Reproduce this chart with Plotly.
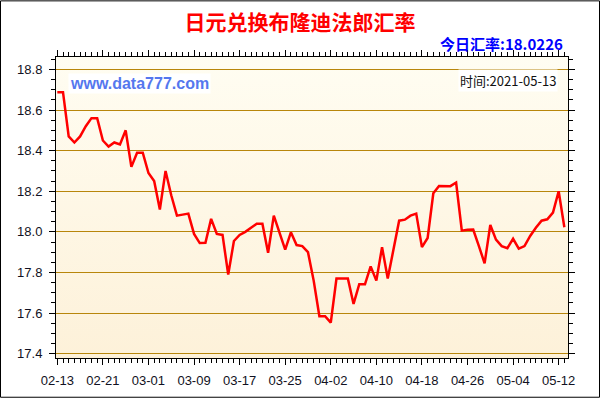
import plotly.graph_objects as go
import pandas as pd

# ---- data ----
dates = pd.date_range("2021-02-13", "2021-05-13", freq="D").strftime("%Y-%m-%d").tolist()
rates = [
    18.688, 18.688, 18.47, 18.44, 18.47, 18.52, 18.56, 18.56, 18.45, 18.42,
    18.44, 18.43, 18.50, 18.32, 18.39, 18.39, 18.29, 18.25, 18.11, 18.30,
    18.18, 18.08, 18.085, 18.09, 17.99, 17.945, 17.946, 18.064, 17.99, 17.985,
    17.79, 17.955, 17.985, 18.00, 18.02, 18.04, 18.04, 17.897, 18.08, 18.00,
    17.913, 17.998, 17.935, 17.93, 17.90, 17.76, 17.585, 17.585, 17.553, 17.77,
    17.77, 17.77, 17.645, 17.742, 17.742, 17.83, 17.76, 17.925, 17.77, 17.91,
    18.055, 18.06, 18.08, 18.09, 17.925, 17.97, 18.19, 18.226, 18.225, 18.225,
    18.243, 18.006, 18.01, 18.011, 17.93, 17.845, 18.034, 17.962, 17.93, 17.92,
    17.966, 17.917, 17.93, 17.98, 18.02, 18.055, 18.062, 18.095, 18.20, 18.0226,
]
x_tick_dates = ["2021-02-13", "2021-02-21", "2021-03-01", "2021-03-09", "2021-03-17", "2021-03-25",
                "2021-04-02", "2021-04-10", "2021-04-18", "2021-04-26", "2021-05-04", "2021-05-12"]
x_tick_labels = ["02-13", "02-21", "03-01", "03-09", "03-17", "03-25",
                 "04-02", "04-10", "04-18", "04-26", "05-04", "05-12"]
y_tick_vals = [17.4, 17.6, 17.8, 18.0, 18.2, 18.4, 18.6, 18.8]
y_tick_labels = ["17.4", "17.6", "17.8", "18.0", "18.2", "18.4", "18.6", "18.8"]

title_text = "日元兑换布隆迪法郎汇率"
today_text = "今日汇率:18.0226"
site_text = "www.data777.com"
time_text = "时间:2021-05-13"

# ---- figure ----
W, H = 600, 400
L, R, T, B = 56, 568, 57, 360
pw, ph = R - L, B - T

def px(p):
    return (p - L) / pw

def py(q):
    return (B - q) / ph

fig = go.Figure()
fig.add_trace(go.Scatter(
    x=dates, y=rates, mode="lines",
    line=dict(color="#FF0000", width=2.5),
    hoverinfo="x+y", showlegend=False,
))

grad_svg = (
    "data:image/svg+xml;utf8,"
    "<svg xmlns='http://www.w3.org/2000/svg' width='10' height='100' preserveAspectRatio='none'>"
    "<defs><linearGradient id='g' x1='0' y1='0' x2='0' y2='1'>"
    "<stop offset='0' stop-color='%23FFFDF2'/><stop offset='1' stop-color='%23FDF1D9'/>"
    "</linearGradient></defs><rect width='10' height='100' fill='url(%23g)'/></svg>"
)

tickfont = dict(family="Liberation Sans, Arial, sans-serif", size=13, color="#111122")

fig.update_layout(
    width=W, height=H,
    margin=dict(l=L, r=W - R, t=T, b=H - B),
    paper_bgcolor="white",
    plot_bgcolor="rgba(0,0,0,0)",
    title=dict(
        text="<b>" + title_text + "</b>",
        x=0.5, xanchor="center", xref="container",
        y=1 - 22.5 / H, yanchor="middle", yref="container",
        font=dict(family="Noto Sans CJK SC", size=21, color="#FF0000"),
    ),
    images=[dict(
        source=grad_svg, xref="paper", yref="paper",
        x=0, y=1, sizex=1, sizey=1, sizing="stretch",
        xanchor="left", yanchor="top", layer="below",
    )],
    xaxis=dict(
        type="date",
        range=["2021-02-12 18:30", "2021-05-13 15:20"],
        tickvals=x_tick_dates, ticktext=x_tick_labels,
        showgrid=False, zeroline=False,
        showline=True, linecolor="black", linewidth=1, mirror="ticks",
        ticks="outside", ticklen=6, tickcolor="black", tickwidth=1,
        minor=dict(dtick=86400000, tick0="2021-02-13", ticks="outside", ticklen=4,
                   tickcolor="black", showgrid=False),
        tickfont=tickfont, ticklabelstandoff=4,
    ),
    yaxis=dict(
        range=[17.379, 18.861],
        tickvals=y_tick_vals, ticktext=y_tick_labels,
        showgrid=True, gridcolor="#B8860B", gridwidth=1, zeroline=False,
        showline=True, linecolor="black", linewidth=1, mirror="ticks",
        ticks="outside", ticklen=6, tickcolor="black", tickwidth=1,
        minor=dict(dtick=0.05, tick0=17.4, ticks="outside", ticklen=4,
                   tickcolor="black", showgrid=False),
        tickfont=tickfont, ticklabelstandoff=4,
    ),
    shapes=[dict(
        type="rect", xref="paper", yref="paper",
        x0=px(0.5), x1=px(W - 0.5), y0=py(H - 0.5), y1=py(0.5),
        line=dict(color="black", width=1), fillcolor="rgba(0,0,0,0)", layer="below",
    )],
    annotations=[
        dict(text="<b>" + today_text + "</b>", xref="paper", yref="paper",
             x=px(565), y=py(43.5), xanchor="right", yanchor="middle", showarrow=False,
             font=dict(family="Noto Sans CJK SC", size=15, color="#0000FF")),
        dict(text="<b>" + site_text + "</b>", xref="paper", yref="paper",
             x=px(68), y=py(83.5), xanchor="left", yanchor="middle", showarrow=False,
             bgcolor="white", borderpad=1,
             font=dict(family="Liberation Sans, Arial, sans-serif", size=16, color="#5577EE")),
        dict(text=time_text, xref="paper", yref="paper",
             x=px(558), y=py(80.5), xanchor="right", yanchor="middle", showarrow=False,
             bgcolor="white", borderpad=1,
             font=dict(family="Noto Sans CJK SC", size=13, color="#111111")),
    ],
)

fig.write_html("out.html", config={"displayModeBar": False},
               post_script="document.body.style.margin='0';")
